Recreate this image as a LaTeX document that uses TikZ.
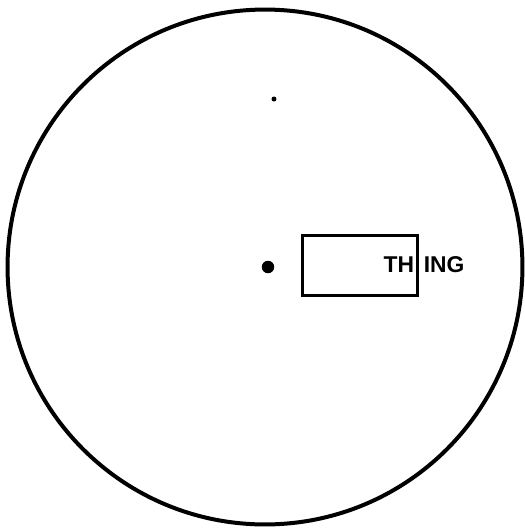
\documentclass[tikz,border=0pt]{standalone}
\usepackage{fontspec}
\setmainfont{Liberation Sans}
\usetikzlibrary{positioning}

\begin{document}
\begin{tikzpicture}[x=0.02cm, y=-0.02cm]

\useasboundingbox (0,0) rectangle (525,529);

\node[circle, draw, line width=0.08cm, minimum size=10.3cm, inner sep=0pt] (disk) at (265,267) {};

\node[circle, fill, minimum size=0.1cm, inner sep=0pt] (speck) at (274,99) {};
\node[circle, fill, minimum size=0.25cm, inner sep=0pt] (dot) at (268,267) {};

\node[draw, line width=0.06cm, minimum width=2.32cm, minimum height=1.2cm, inner sep=0pt] (box) at (360,265) {};

\node[anchor=east, inner sep=0pt, font=\fontsize{13}{15}\selectfont\bfseries] (th) at ([xshift=-0.1cm]box.east) {TH};
\node[anchor=west, inner sep=0pt, font=\fontsize{13}{15}\selectfont\bfseries] (ing) at ([xshift=0.08cm]box.east) {ING};

\end{tikzpicture}
\end{document}
